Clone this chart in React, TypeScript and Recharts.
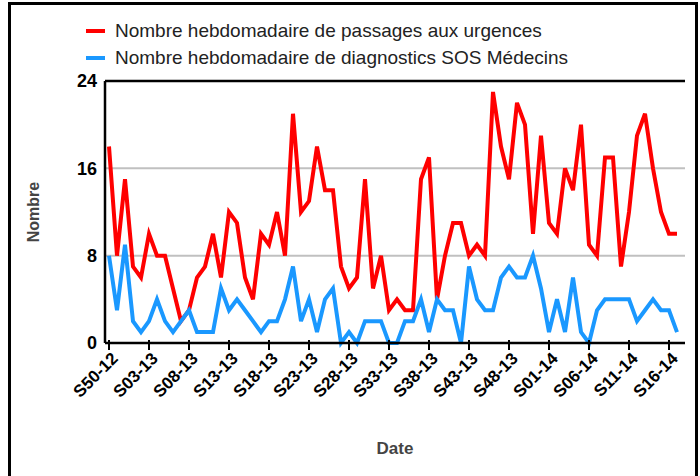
import React from 'react'
import {
	LineChart,
	Line,
	XAxis,
	YAxis,
	CartesianGrid,
	ReferenceLine,
	Legend,
	Label,
} from 'recharts'

// weekly labels, S50-12 .. S17-14
const weeks = [
	'S50-12', 'S51-12', 'S52-12',
	'S01-13', 'S02-13', 'S03-13', 'S04-13', 'S05-13', 'S06-13', 'S07-13', 'S08-13', 'S09-13', 'S10-13',
	'S11-13', 'S12-13', 'S13-13', 'S14-13', 'S15-13', 'S16-13', 'S17-13', 'S18-13', 'S19-13', 'S20-13',
	'S21-13', 'S22-13', 'S23-13', 'S24-13', 'S25-13', 'S26-13', 'S27-13', 'S28-13', 'S29-13', 'S30-13',
	'S31-13', 'S32-13', 'S33-13', 'S34-13', 'S35-13', 'S36-13', 'S37-13', 'S38-13', 'S39-13', 'S40-13',
	'S41-13', 'S42-13', 'S43-13', 'S44-13', 'S45-13', 'S46-13', 'S47-13', 'S48-13', 'S49-13', 'S50-13',
	'S51-13', 'S52-13',
	'S01-14', 'S02-14', 'S03-14', 'S04-14', 'S05-14', 'S06-14', 'S07-14', 'S08-14', 'S09-14', 'S10-14',
	'S11-14', 'S12-14', 'S13-14', 'S14-14', 'S15-14', 'S16-14', 'S17-14',
]

const urgences = [
	18, 8, 15, 7, 6, 10, 8, 8, 5, 2,
	3, 6, 7, 10, 6, 12, 11, 6, 4, 10,
	9, 12, 8, 21, 12, 13, 18, 14, 14, 7,
	5, 6, 15, 5, 8, 3, 4, 3, 3, 15,
	17, 4, 8, 11, 11, 8, 9, 8, 23, 18,
	15, 22, 20, 10, 19, 11, 10, 16, 14, 20,
	9, 8, 17, 17, 7, 12, 19, 21, 16, 12,
	10, 10,
]

const sosMedecins = [
	8, 3, 9, 2, 1, 2, 4, 2, 1, 2,
	3, 1, 1, 1, 5, 3, 4, 3, 2, 1,
	2, 2, 4, 7, 2, 4, 1, 4, 5, 0,
	1, 0, 2, 2, 2, 0, 0, 2, 2, 4,
	1, 4, 3, 3, 0, 7, 4, 3, 3, 6,
	7, 6, 6, 8, 5, 1, 4, 1, 6, 1,
	0, 3, 4, 4, 4, 4, 2, 3, 4, 3,
	3, 1,
]

const yTicks = [0, 8, 16, 24]

const seriesNames = {
	urgences: 'Nombre hebdomadaire de passages aux urgences',
	sos: 'Nombre hebdomadaire de diagnostics SOS Médecins',
}

const RED = '#ff0000'
const BLUE = '#1a98ff'
const FONT = '"Liberation Sans", Arial, sans-serif'

const data = weeks.map((week, i) => ({
	week,
	urgences: urgences[i],
	sos: sosMedecins[i],
}))

const WeekTick = (props: any) => {
	const { x, y, payload } = props
	return (
		<g transform={`translate(${x},${y + 4})`}>
			<line x1={0} x2={0} y1={-14} y2={-4} stroke='#000' strokeWidth={2} />
			<text
				textAnchor='end'
				transform='rotate(-45)'
				dy={11}
				dx={3}
				fontSize={17}
				fontWeight='bold'
				fill='#000'
				fontFamily={FONT}
			>
				{payload.value}
			</text>
		</g>
	)
}

const LegendBox = () => (
	<div style={{ fontFamily: FONT, fontSize: 19, color: '#222', lineHeight: '27px' }}>
		{[
			{ color: RED, label: seriesNames.urgences },
			{ color: BLUE, label: seriesNames.sos },
		].map((item) => (
			<div key={item.label} style={{ display: 'flex', alignItems: 'center' }}>
				<span
					style={{
						display: 'inline-block',
						width: 19,
						height: 4,
						background: item.color,
						marginRight: 10,
					}}
				/>
				<span>{item.label}</span>
			</div>
		))}
	</div>
)

export default function App() {
	return (
		<div style={{ position: 'absolute', left: 0, top: 0, width: 700, height: 476, background: '#fff', overflow: 'hidden' }}>
			{/* outer frame */}
			<div
				style={{
					position: 'absolute',
					left: 8,
					top: 2,
					width: 684,
					height: 500,
					border: '3px solid #000',
				}}
			/>
			<LineChart
				width={700}
				height={476}
				data={data}
				margin={{ top: 81, right: 15, bottom: 26, left: 55 }}
				style={{ position: 'absolute', left: 0, top: 0, fontFamily: FONT }}
			>
				<CartesianGrid vertical={false} stroke='#c0c0c0' strokeWidth={2} />
				<ReferenceLine y={24} stroke='#000' strokeWidth={2.5} />
				<XAxis
					dataKey='week'
					interval={4}
					height={107}
					padding={{ left: 4, right: 8 }}
					tick={<WeekTick />}
					tickSize={5}
					axisLine={{ stroke: '#000', strokeWidth: 2.5 }}
					tickLine={{ stroke: '#000', strokeWidth: 2 }}
				>
					<Label
						value='Date'
						position='insideBottom'
						offset={-4}
						style={{ fontSize: 17, fontWeight: 'bold', fill: '#444', fontFamily: FONT }}
					/>
				</XAxis>
				<YAxis
					width={50}
					domain={[0, 24]}
					ticks={yTicks}
					tickLine={false}
					axisLine={{ stroke: '#000', strokeWidth: 2.5 }}
					tick={{ fontSize: 18, fontWeight: 'bold', fill: '#000', fontFamily: FONT }}
				>
					<Label
						value='Nombre'
						angle={-90}
						position='insideLeft'
						offset={-22}
						style={{ fontSize: 16, fontWeight: 'bold', fill: '#444', fontFamily: FONT, textAnchor: 'middle' }}
					/>
				</YAxis>
				<Legend
					layout='horizontal'
					verticalAlign='middle'
					align='center'
					wrapperStyle={{ top: 17, left: 86, width: 600 }}
					content={<LegendBox />}
				/>
				<Line
					type='linear'
					dataKey='urgences'
					name={seriesNames.urgences}
					stroke={RED}
					strokeWidth={4}
					dot={false}
					isAnimationActive={false}
				/>
				<Line
					type='linear'
					dataKey='sos'
					name={seriesNames.sos}
					stroke={BLUE}
					strokeWidth={4}
					dot={false}
					isAnimationActive={false}
				/>
			</LineChart>
		</div>
	)
}
